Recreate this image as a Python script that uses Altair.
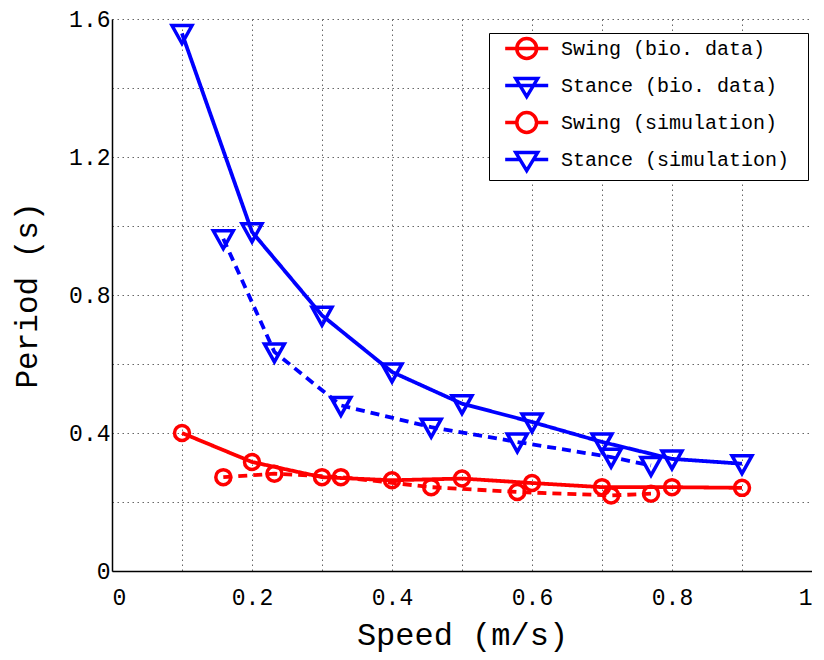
import altair as alt
import pandas as pd

# ---- data ----
bio_speed = [0.1, 0.2, 0.3, 0.4, 0.5, 0.6, 0.7, 0.8, 0.9]
swing_bio = [0.400, 0.316, 0.272, 0.263, 0.268, 0.255, 0.243, 0.243, 0.241]
stance_bio = [1.558, 0.983, 0.741, 0.577, 0.485, 0.432, 0.374, 0.325, 0.311]

sim_speed = [0.159, 0.232, 0.327, 0.456, 0.579, 0.713, 0.770]
swing_sim = [0.272, 0.282, 0.272, 0.243, 0.229, 0.219, 0.224]
stance_sim = [0.963, 0.635, 0.480, 0.417, 0.374, 0.330, 0.306]

series_names = ["Swing (bio. data)", "Stance (bio. data)",
                "Swing (simulation)", "Stance (simulation)"]
series_colors = ["#ff0000", "#0000ff", "#ff0000", "#0000ff"]

x_grid = [0, 0.1, 0.2, 0.3, 0.4, 0.5, 0.6, 0.7, 0.8, 0.9, 1.0]
y_grid = [0, 0.2, 0.4, 0.6, 0.8, 1.0, 1.2, 1.4, 1.6]

rows = []
for sp, v in zip(bio_speed, swing_bio):
    rows.append(dict(speed=sp, period=v, series=series_names[0], kind="swing", source="bio"))
for sp, v in zip(bio_speed, stance_bio):
    rows.append(dict(speed=sp, period=v, series=series_names[1], kind="stance", source="bio"))
for sp, v in zip(sim_speed, swing_sim):
    rows.append(dict(speed=sp, period=v, series=series_names[2], kind="swing", source="sim"))
for sp, v in zip(sim_speed, stance_sim):
    rows.append(dict(speed=sp, period=v, series=series_names[3], kind="stance", source="sim"))
df = pd.DataFrame(rows)

FONT = "Liberation Mono"

tri_path = "M-1,-0.8L1,-0.8L0,1Z"
# legend symbols (unit = half of sqrt(symbolSize)); trailing moves only set the entry box
ext = "M-1.87,-0.96M23.6,0.96"
leg_circle_bio = "M-1.87,0L1.87,0M-0.86,0A0.86,0.86,0,1,1,0.86,0A0.86,0.86,0,1,1,-0.86,0" + ext
leg_tri_bio = "M-1.87,0L1.87,0M-0.95,-0.6L0.95,-0.6L0,0.96Z" + ext
leg_circle_sim = "M-1.87,0L-0.86,0M0.86,0L1.87,0M-0.86,0A0.86,0.86,0,1,1,0.86,0A0.86,0.86,0,1,1,-0.86,0" + ext
leg_tri_sim = "M-1.87,0L-0.59,0M0.59,0L1.87,0M-0.95,-0.6L0.95,-0.6L0,0.96Z" + ext

x_enc = alt.X("speed:Q",
              scale=alt.Scale(domain=[0, 1], nice=False),
              axis=alt.Axis(values=x_grid, format=".1~f",
                            labelExpr="round(datum.value*10) % 2 == 0 ? datum.label : ''",
                            title="Speed (m/s)"))
y_enc = alt.Y("period:Q",
              scale=alt.Scale(domain=[0, 1.6], nice=False),
              axis=alt.Axis(values=y_grid, format=".1~f",
                            labelExpr="round(datum.value*10) % 4 == 0 ? datum.label : ''",
                            title="Period (s)"))
color_scale = alt.Scale(domain=series_names, range=series_colors)

lines = alt.Chart(df).mark_line(strokeWidth=3.8).encode(
    x=x_enc, y=y_enc,
    color=alt.Color("series:N", scale=color_scale),
    strokeDash=alt.StrokeDash("source:N",
                              scale=alt.Scale(domain=["bio", "sim"], range=[[1, 0], [9, 6]]),
                              legend=None),
    detail="series:N",
)

swing_pts = alt.Chart(df).transform_filter(alt.datum.kind == "swing").mark_point(
    shape="circle", size=225, filled=False, strokeWidth=3.5, opacity=1
).encode(x=x_enc, y=y_enc, color=alt.Color("series:N", scale=color_scale))

stance_pts = alt.Chart(df).transform_filter(alt.datum.kind == "stance").mark_point(
    shape=tri_path, size=400, filled=False, strokeWidth=3.5, opacity=1
).encode(x=x_enc, y=y_enc, color=alt.Color("series:N", scale=color_scale))

leg = alt.Legend(
    title=None, orient="none", legendX=377, legendY=14,
    fillColor="white", strokeColor="black",
    padding=2, symbolOffset=22.2, rowPadding=0, labelOffset=20.8,
    labelFont=FONT, labelFontSize=20, labelColor="black", labelLimit=400,
    symbolSize=529, symbolStrokeWidth=3.5, symbolOpacity=1,
    symbolFillColor="transparent",
)

legend_layer = alt.Chart(df).transform_filter("datum.speed > 5").mark_point(
    opacity=1, filled=False
).encode(
    x=x_enc, y=y_enc,
    color=alt.Color("series:N", scale=color_scale, legend=leg),
    shape=alt.Shape("series:N",
                    scale=alt.Scale(domain=series_names,
                                    range=[leg_circle_bio, leg_tri_bio, leg_circle_sim, leg_tri_sim]),
                    legend=leg),
)

chart = alt.layer(lines, swing_pts, stance_pts, legend_layer).properties(
    width=700, height=552,
    padding={"left": 3, "top": 0, "right": 0, "bottom": 3},
).configure_view(stroke=None).configure_axis(
    grid=True, gridDash=[1.5, 3.5], gridColor="#666666", gridWidth=1,
    domainColor="black", domainWidth=1.5, ticks=False,
    labelFont=FONT, labelFontSize=23, labelColor="black",
    titleFont=FONT, titleFontSize=31, titleFontWeight="normal", titleColor="black",
).configure_axisX(labelPadding=15, titlePadding=10, titleFontSize=32).configure_axisY(labelPadding=2, titlePadding=25)

chart.save("out.html", embed_options={"renderer": "svg", "actions": False})
